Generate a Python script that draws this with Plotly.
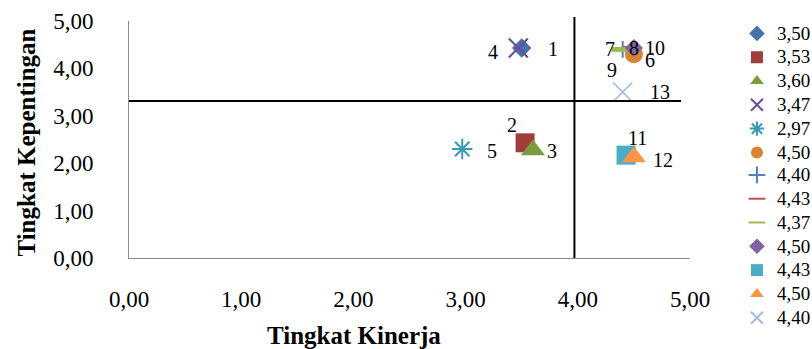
import plotly.graph_objects as go

# ---- data ----
series_names = ["3,50", "3,53", "3,60", "3,47", "2,97", "4,50", "4,40",
                "4,43", "4,37", "4,50", "4,43", "4,50", "4,40"]
point_labels = ["1", "2", "3", "4", "5", "6", "7", "8", "9", "10", "11", "12", "13"]
kinerja = [3.50, 3.53, 3.60, 3.47, 2.97, 4.50, 4.40, 4.43, 4.37, 4.50, 4.43, 4.50, 4.40]
kepentingan = [4.43, 2.43, 2.28, 4.43, 2.30, 4.30, 4.40, 4.43, 4.40, 4.43, 2.17, 2.13, 3.50]

mean_kinerja = 3.97
mean_kepentingan = 3.31
hline_end = 4.92

tick_vals = [0, 1, 2, 3, 4, 5]
tick_text = ["0,00", "1,00", "2,00", "3,00", "4,00", "5,00"]

# ---- styling ----
symbols = ["diamond", "square", "triangle-up", "x-thin-open", "asterisk-open", "circle",
           "cross-thin-open", "line-ew-open", "line-ew-open", "diamond", "square",
           "triangle-up", "x-thin-open"]
sizes = [15, 19, 21, 19, 17, 18, 12, 6, 11, 14, 19, 21, 19]
linew = [0, 0, 0, 2, 2, 0, 2, 4, 5, 0, 0, 0, 1.5]
colors = ["#4672AB", "#A03E3B", "#7E9A41", "#6B4F95", "#3A9AB2", "#D88433",
          "#4F81BD", "#C0504D", "#9BBB59", "#8064A2", "#4BACC6", "#F79646", "#A5BCDD"]
label_shift = [(31, -1), (-13, 18), (19, -1), (-25, -4), (30, -2), (16, -6), (-13, 0),
               (8, 0), (-7, -21), (21, 0), (11, 17), (29, -3), (37, 0)]

SERIF = "Liberation Serif, Times New Roman, serif"
PL, PR, PT, PB = 128.5, 690, 21, 258
PW, PH = PR - PL, PB - PT

fig = go.Figure()
for i in range(len(series_names)):
    open_sym = symbols[i].endswith("-open")
    marker = dict(symbol=symbols[i], size=sizes[i], color=colors[i])
    if open_sym:
        marker["line"] = dict(color=colors[i], width=linew[i])
    else:
        marker["line"] = dict(width=0)
    fig.add_trace(go.Scatter(
        x=[kinerja[i]], y=[kepentingan[i]], mode="markers",
        name='<span style="font-size:19px">' + series_names[i] + "</span>",
        marker=marker, cliponaxis=False,
        legend="legend" if i < 6 else "legend2"))

# quadrant lines
fig.add_shape(type="line", xref="x", yref="y", x0=0, x1=hline_end,
              y0=mean_kepentingan, y1=mean_kepentingan,
              line=dict(color="black", width=2))
fig.add_shape(type="line", xref="x", yref="paper", x0=mean_kinerja, x1=mean_kinerja,
              y0=0, y1=1.017, line=dict(color="black", width=2))

# data labels
for i in range(len(point_labels)):
    fig.add_annotation(x=kinerja[i], y=kepentingan[i], text=point_labels[i],
                       showarrow=False, xshift=label_shift[i][0], yshift=label_shift[i][1],
                       xanchor="center", yanchor="middle",
                       font=dict(family=SERIF, size=20, color="black"))

# axis titles
fig.add_annotation(xref="paper", yref="paper", x=(354 - PL) / PW, y=(PB - 335) / PH,
                   text="<b>Tingkat Kinerja</b>", showarrow=False,
                   xanchor="center", yanchor="middle",
                   font=dict(family=SERIF, size=25, color="black"))
fig.add_annotation(xref="paper", yref="paper", x=(25 - PL) / PW, y=(PB - 143) / PH,
                   text="<b>Tingkat Kepentingan</b>", showarrow=False, textangle=-90,
                   xanchor="center", yanchor="middle",
                   font=dict(family=SERIF, size=25, color="black"))

axis_common = dict(range=[0, 5], tickvals=tick_vals, ticktext=tick_text, showgrid=False,
                   zeroline=False, showline=True, linecolor="#8C8C8C", linewidth=1,
                   ticks="", tickfont=dict(family=SERIF, size=23, color="black"))
fig.update_xaxes(**axis_common, ticklabelstandoff=20)
fig.update_yaxes(**axis_common, ticklabelstandoff=30)

legend_common = dict(xanchor="left", yanchor="top",
                     font=dict(family=SERIF, size=16, color="black"),
                     itemsizing="constant", tracegroupgap=0, bgcolor="rgba(0,0,0,0)")
fig.update_layout(
    width=812, height=349,
    margin=dict(l=PL, r=812 - PR, t=PT, b=349 - PB, autoexpand=False),
    paper_bgcolor="white", plot_bgcolor="white",
    showlegend=True,
    legend=dict(x=(737 - PL) / PW, y=(PB - 16.5) / PH, **legend_common),
    legend2=dict(x=(737 - PL) / PW, y=(PB - 158) / PH, **legend_common),
)

fig.write_html("out.html", config={"displayModeBar": False},
               post_script="document.body.style.margin='0px';")
